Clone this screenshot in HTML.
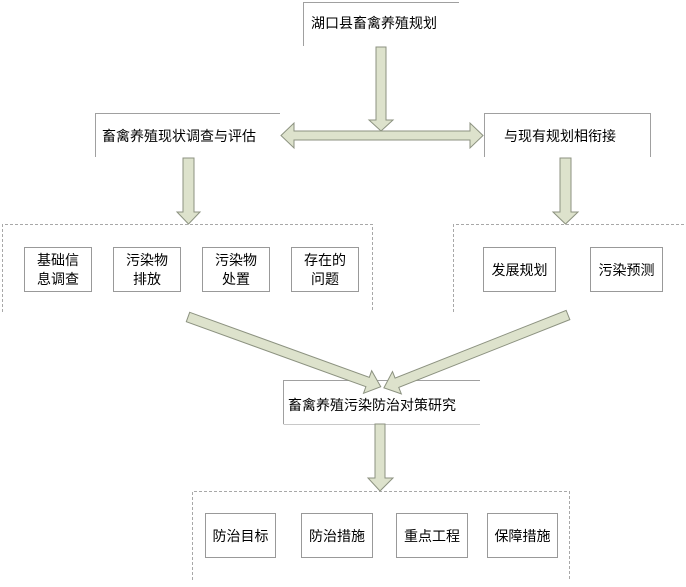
<!DOCTYPE html>
<html><head><meta charset="utf-8"><style>
body{margin:0;background:#fff;}
svg text{font-family:"Liberation Sans","Noto Sans CJK SC",sans-serif;font-size:14px;fill:#000;}
</style></head><body>
<svg width="686" height="582" xmlns="http://www.w3.org/2000/svg">
<g fill="none" stroke="#a0a0a0" stroke-width="1">
<!-- open boxes: top+left -->
<path d="M303.5,46 V2.5 H459"/>
<path d="M95.5,157 V113.5 H280"/>
<path d="M484.5,157 V113.5 H650.5 V157"/>
<path d="M283.5,424 V380.5 H480"/>
<path d="M283.5,424.5 H480" stroke="#c8c8c8"/>
</g>
<g fill="none" stroke="#a8a8a8" stroke-dasharray="3,2">
<path d="M2.5,312 V224.5 H372.5 V312"/>
<path d="M453.5,312 V224.5 H686"/>
<path d="M192.5,580 V491.5 H569.5 V580"/>
</g>
<g fill="#fff" stroke="#999">
<rect x="24.5" y="247.5" width="67" height="44"/>
<rect x="113.5" y="247.5" width="67" height="44"/>
<rect x="202.5" y="247.5" width="67" height="44"/>
<rect x="291.5" y="247.5" width="67" height="44"/>
<rect x="483.5" y="247.5" width="72" height="44"/>
<rect x="590.5" y="247.5" width="72" height="44"/>
<rect x="205.5" y="513.5" width="70" height="44"/>
<rect x="301.5" y="513.5" width="71" height="44"/>
<rect x="396.5" y="513.5" width="71" height="44"/>
<rect x="487.5" y="513.5" width="70" height="44"/>
</g>
<g fill="#dde2cc" stroke="#8c9280" stroke-width="1">
<polygon points="376,47 386,47 386,120 393,120 381,131 369,120 376,120"/>
<polygon points="281,135.5 294,123 294,131 470,131 470,123 483,135.5 470,148 470,140 294,140 294,148"/>
<polygon points="183,158 194,158 194,212 200,212 188.5,224 177,212 183,212"/>
<polygon points="560,158 571,158 571,212 578,212 565.5,224 553,212 560,212"/>
<polygon points="375,424 385,424 385,478 393,478 380,491 368,478 375,478"/>
<g transform="translate(188,317) rotate(19.9)">
<polygon points="0,-5 191,-5 191,-12 205,0 191,12 191,5 0,5"/>
</g>
<g transform="translate(568,315) rotate(158.4)">
<polygon points="0,-5 184,-5 184,-12 198,0 184,12 184,5 0,5"/>
</g>
</g>
<text x="311" y="28">湖口县畜禽养殖规划</text>
<text x="102" y="141">畜禽养殖现状调查与评估</text>
<text x="504" y="141">与现有规划相衔接</text>
<text x="288" y="410">畜禽养殖污染防治对策研究</text>
<text x="58" y="265" text-anchor="middle">基础信</text><text x="58" y="284" text-anchor="middle">息调查</text>
<text x="147" y="265" text-anchor="middle">污染物</text><text x="147" y="284" text-anchor="middle">排放</text>
<text x="236" y="265" text-anchor="middle">污染物</text><text x="236" y="284" text-anchor="middle">处置</text>
<text x="325" y="265" text-anchor="middle">存在的</text><text x="325" y="284" text-anchor="middle">问题</text>
<text x="519.5" y="275" text-anchor="middle">发展规划</text>
<text x="626.5" y="275" text-anchor="middle">污染预测</text>
<text x="240.5" y="541" text-anchor="middle">防治目标</text>
<text x="337" y="541" text-anchor="middle">防治措施</text>
<text x="432" y="541" text-anchor="middle">重点工程</text>
<text x="522.5" y="541" text-anchor="middle">保障措施</text>
</svg>
</body></html>
